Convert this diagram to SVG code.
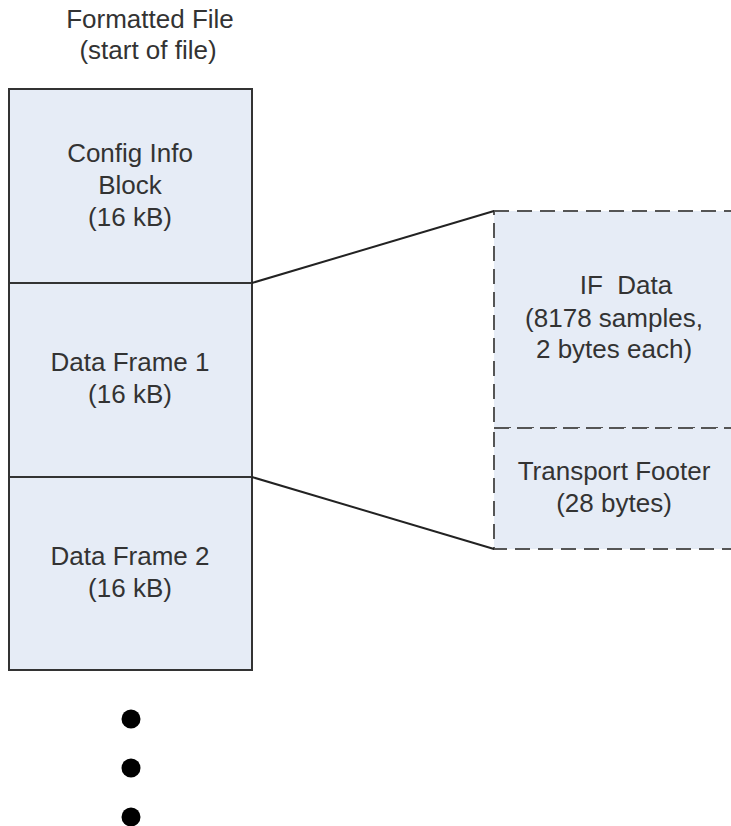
<svg xmlns="http://www.w3.org/2000/svg" width="731" height="826" viewBox="0 0 731 826">
<style>
text{font-family:"Liberation Sans",Arial,sans-serif;font-size:26px;fill:#333;text-anchor:middle}
.blk{fill:#e6ecf6;stroke:#333;stroke-width:2}
.dash{fill:#e6ecf6;stroke:#555;stroke-width:2;stroke-dasharray:15 8}
.con{stroke:#222;stroke-width:2;fill:none}
</style>
<rect width="731" height="826" fill="#fff"/>
<g id="header">
<text x="150" y="28">Formatted File</text>
<text x="148" y="59">(start of file)</text>
</g>
<g id="config">
<rect class="blk" x="9" y="89" width="243" height="194"/>
<text x="130" y="162">Config Info</text>
<text x="130" y="194">Block</text>
<text x="130" y="226">(16 kB)</text>
</g>
<g id="frame1">
<rect class="blk" x="9" y="283" width="243" height="194"/>
<text x="130" y="371">Data Frame 1</text>
<text x="130" y="403">(16 kB)</text>
</g>
<g id="frame2">
<rect class="blk" x="9" y="477" width="243" height="193"/>
<text x="130" y="565">Data Frame 2</text>
<text x="130" y="597">(16 kB)</text>
</g>
<g id="ifdata">
<rect class="dash" x="494" y="211" width="245" height="217"/>
<text x="626" y="294" xml:space="preserve">IF  Data</text>
<text x="614" y="327">(8178 samples,</text>
<text x="614" y="358">2 bytes each)</text>
</g>
<g id="footer">
<rect class="dash" x="494" y="428" width="245" height="121"/>
<text x="614" y="480">Transport Footer</text>
<text x="614" y="512">(28 bytes)</text>
</g>
<g id="connectors">
<line class="con" x1="252" y1="283" x2="494" y2="211"/>
<line class="con" x1="252" y1="477" x2="494" y2="549"/>
</g>
<g id="dots" fill="#000">
<circle cx="131" cy="719" r="9.5"/>
<circle cx="131" cy="768" r="9.5"/>
<circle cx="131" cy="817" r="9.5"/>
</g>
</svg>
